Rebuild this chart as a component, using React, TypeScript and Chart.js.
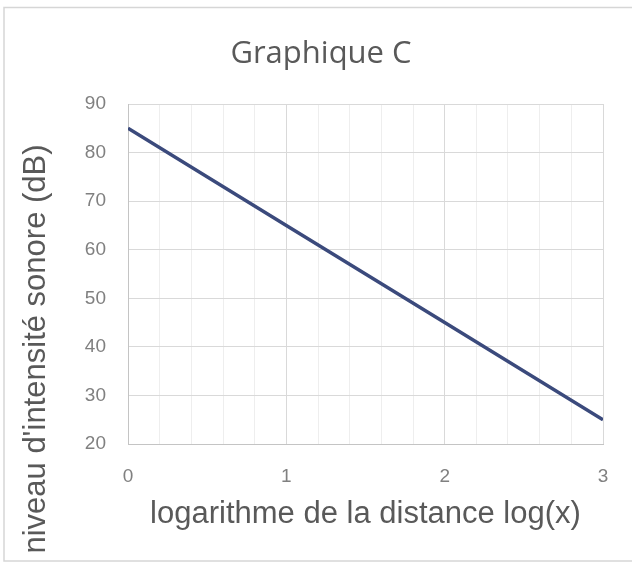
import React, { useEffect, useRef } from "react";
import { Chart, registerables } from "chart.js";

Chart.register(...registerables);

const logDistance = [0, 1, 2, 3];
const soundLevel = [85, 65, 45, 25];
const chartTitle = "Graphique C";
const xTitle = "logarithme de la distance log(x)";
const yTitle = "niveau d'intensité sonore (dB)";

const isInt = (v: number) => Math.abs(v - Math.round(v)) < 1e-6;

const framePlugin = {
  id: "frame",
  beforeDraw(chart: any) {
    const ctx = chart.ctx;
    ctx.save();
    ctx.fillStyle = "#ffffff";
    ctx.fillRect(0, 0, chart.width, chart.height);
    ctx.strokeStyle = "#d6d6d6";
    ctx.lineWidth = 1.5;
    ctx.strokeRect(4, 7.5, chart.width + 20, 553.5);
    ctx.restore();
  },
};

const yTitlePlugin = {
  id: "yTitleCustom",
  afterDraw(chart: any) {
    const ctx = chart.ctx;
    const area = chart.chartArea;
    ctx.save();
    ctx.translate(36, (area.top + area.bottom) / 2 + 75);
    ctx.rotate(-Math.PI / 2);
    ctx.font = "31px 'Liberation Sans'";
    ctx.fillStyle = "#595959";
    ctx.textAlign = "center";
    ctx.textBaseline = "middle";
    ctx.fillText(yTitle, 0, 0);
    ctx.restore();
  },
};

export default function App() {
  const ref = useRef<HTMLCanvasElement>(null);
  useEffect(() => {
    document.body.style.margin = "0";
    const chart = new Chart(ref.current!, {
      type: "scatter",
      data: {
        datasets: [
          {
            data: logDistance.map((x, i) => ({ x, y: soundLevel[i] })),
            showLine: true,
            borderColor: "#3b4a7c",
            borderWidth: 3.5,
            pointRadius: 0,
          },
        ],
      },
      options: {
        responsive: false,
        animation: false,
        layout: { padding: { left: 39, right: 29, top: 0, bottom: 0 } },
        plugins: {
          legend: { display: false },
          tooltip: { enabled: false },
          title: {
            display: true,
            text: chartTitle,
            color: "#595959",
            font: { family: "'Open Sans'", size: 31, weight: "normal" },
            padding: { top: 35.4, bottom: 31.4 },
          },
        },
        scales: {
          x: {
            type: "linear",
            min: 0,
            max: 3,
            afterFit(scale: any) {
              scale.height = 119;
            },
            ticks: {
              stepSize: 0.2,
              autoSkip: false,
              maxRotation: 0,
              padding: 21,
              color: "#808080",
              font: { family: "'Liberation Sans'", size: 19 },
              callback: (v: any) => (isInt(Number(v)) ? String(Math.round(Number(v))) : ""),
            },
            grid: {
              drawTicks: false,
              color: (c: any) => (c.tick && isInt(c.tick.value) ? "#d9d9d9" : "#eeeeee"),
            },
            border: { color: "#c4c4c4" },
            title: {
              display: true,
              text: xTitle,
              color: "#595959",
              font: { family: "'Liberation Sans'", size: 31 },
              padding: { top: 0, bottom: 30 },
            },
          },
          y: {
            min: 20,
            max: 90,
            afterFit(scale: any) {
              scale.width = 89;
            },
            ticks: {
              stepSize: 10,
              padding: 22,
              color: "#808080",
              font: { family: "'Liberation Sans'", size: 19 },
            },
            grid: { drawTicks: false, color: "#d9d9d9" },
            border: { color: "#c4c4c4" },
          },
        },
      },
      plugins: [framePlugin, yTitlePlugin],
    });
    return () => chart.destroy();
  }, []);
  return <canvas ref={ref} width={632} height={563} style={{ display: "block" }} />;
}
